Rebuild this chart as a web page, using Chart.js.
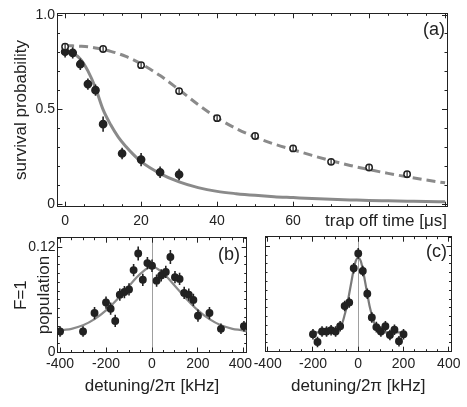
<!DOCTYPE html>
<html>
<head>
<meta charset="utf-8">
<script src="https://cdn.jsdelivr.net/npm/chart.js@4.4.1/dist/chart.umd.min.js"></script>
<style>
  html, body { margin: 0; padding: 0; background: #fff; }
  #fig { position: relative; width: 467px; height: 407px; overflow: hidden;
         font-family: "Liberation Sans", Arial, sans-serif; color: #222; }
  #fig canvas { position: absolute; }
  .tag { position: absolute; font-size: 18px; line-height: 18px; }
</style>
</head>
<body>
<div id="fig">
  <canvas id="panelA" width="467" height="235" style="left:0;top:0"></canvas>
  <canvas id="panelB" width="262" height="177" style="left:0;top:230px"></canvas>
  <canvas id="panelC" width="219" height="177" style="left:248px;top:230px"></canvas>
  <div class="tag" style="right:22px;top:20px">(a)</div>
  <div class="tag" style="right:227px;top:245px">(b)</div>
  <div class="tag" style="right:20px;top:242px">(c)</div>
</div>
<script>
// (a) survival probability vs trap off time
const fullT = [0, 2, 4, 6, 8, 10, 15, 20, 25, 30];
const fullP = [0.806, 0.800, 0.740, 0.635, 0.603, 0.423, 0.268, 0.236, 0.169, 0.157];
const fullErr = [0.03, 0.03, 0.03, 0.03, 0.03, 0.04, 0.03, 0.035, 0.03, 0.03];
const openT = [0, 10, 20, 30, 40, 50, 60, 70, 80, 90];
const openP = [0.832, 0.820, 0.735, 0.598, 0.455, 0.361, 0.295, 0.224, 0.194, 0.159];
const openErr = [0.015, 0.015, 0.015, 0.015, 0.015, 0.015, 0.015, 0.015, 0.015, 0.015];
const fitT = [0, 2, 4, 6, 8, 10, 12, 14, 16, 18, 20, 25, 30, 35, 40, 45, 50, 55, 60, 65, 70, 75, 80, 85, 90, 95, 100];
const fitSolid = [0.805, 0.797, 0.768, 0.705, 0.615, 0.500, 0.420, 0.355, 0.305, 0.262, 0.225, 0.162, 0.118, 0.088,
                  0.068, 0.056, 0.047, 0.040, 0.035, 0.030, 0.026, 0.023, 0.020, 0.018, 0.016, 0.014, 0.013];
const fitDash = [0.838, 0.837, 0.835, 0.832, 0.826, 0.818, 0.808, 0.796, 0.781, 0.763, 0.742, 0.680, 0.605, 0.527,
                 0.457, 0.400, 0.355, 0.318, 0.288, 0.258, 0.230, 0.205, 0.183, 0.163, 0.145, 0.128, 0.113];
const timeTicks = [0, 20, 40, 60, 80, 100];
const probTicks = [0, 0.5, 1.0];

// (b) F=1 population vs detuning, broad
const bDet = [-400, -300, -250, -200, -180, -160, -140, -120, -100, -80, -60, -40, -20, 0,
              20, 40, 60, 80, 100, 120, 140, 160, 180, 200, 250, 300, 400];
const bPop = [0.024, 0.024, 0.045, 0.057, 0.050, 0.036, 0.066, 0.069, 0.072, 0.094, 0.113, 0.083, 0.102, 0.099,
              0.082, 0.088, 0.092, 0.109, 0.086, 0.084, 0.068, 0.066, 0.060, 0.042, 0.045, 0.027, 0.030];
const bErr = [0.006, 0.006, 0.007, 0.007, 0.007, 0.007, 0.007, 0.007, 0.007, 0.007, 0.008, 0.007, 0.007, 0.007,
              0.007, 0.007, 0.007, 0.008, 0.007, 0.007, 0.007, 0.007, 0.007, 0.007, 0.007, 0.006, 0.006];
const bFitDet = [-412, -400, -350, -300, -250, -200, -150, -100, -50, 0, 50, 100, 150, 200, 250, 300, 350, 400, 412];
const bFitPop = [0.024, 0.025, 0.027, 0.031, 0.038, 0.048, 0.061, 0.076, 0.090, 0.098,
                 0.090, 0.076, 0.061, 0.048, 0.038, 0.031, 0.027, 0.025, 0.024];

// (c) F=1 population vs detuning, narrow
const cDet = [-200, -180, -160, -140, -120, -100, -80, -60, -40, -20, 0, 20, 40, 60, 80, 100, 120, 140, 160, 180, 200];
const cPop = [0.020, 0.011, 0.023, 0.023, 0.0245, 0.023, 0.029, 0.052, 0.056, 0.095, 0.112,
              0.092, 0.066, 0.039, 0.028, 0.023, 0.029, 0.019, 0.025, 0.012, 0.020];
const cErr = [0.006, 0.006, 0.006, 0.006, 0.006, 0.006, 0.006, 0.006, 0.006, 0.006, 0.006,
              0.006, 0.006, 0.006, 0.006, 0.006, 0.006, 0.006, 0.006, 0.006, 0.006];
const cFitDet = [-200, -150, -110, -100, -90, -80, -70, -60, -50, -40, -30, -20, -10, 0,
                 10, 20, 30, 40, 50, 60, 70, 80, 90, 100, 110, 150, 200];
const cFitPop = [0.022, 0.022, 0.022, 0.0235, 0.025, 0.028, 0.033, 0.042, 0.052, 0.066, 0.080, 0.094, 0.104, 0.107,
                 0.104, 0.094, 0.080, 0.066, 0.052, 0.042, 0.033, 0.028, 0.025, 0.0235, 0.022, 0.022, 0.022];
const detTicks = [-400, -200, 0, 200, 400];
const popTicks = [0, 0.12];

const FONT = '"Liberation Sans", Arial, sans-serif';
const INK = '#222';
const GREY = '#8a8a8a';
Chart.defaults.font.family = FONT;
Chart.defaults.color = INK;

function pts(xs, ys) {
    return xs.map((x, i) => ({ x, y: ys[i] }));
}

// vertical error bars as one broken line
function bars(xs, ys, es, width, order) {
    const data = [];
    xs.forEach((x, i) => data.push({ x, y: ys[i] - es[i] }, { x, y: ys[i] + es[i] }, { x, y: null }));
    return { data, showLine: true, spanGaps: false, pointRadius: 0, borderColor: INK, borderWidth: width, order };
}

function dots(xs, ys, r, fill, order) {
    return { data: pts(xs, ys), pointRadius: r, pointBackgroundColor: fill, pointBorderColor: INK,
             pointBorderWidth: 1.5, order };
}

function curve(xs, ys, width, color, dash, order) {
    return { data: pts(xs, ys), showLine: true, pointRadius: 0, borderColor: color, borderWidth: width,
             borderDash: dash, cubicInterpolationMode: 'monotone', order };
}

// one side of the frame: ticks point inward, size fixed so the plot box lands where we want it.
// `step` is either a minor step size or an array of major tick values
function edge(pos, min, max, step, len, size, weight) {
    const horiz = pos === 'top' || pos === 'bottom';
    const list = Array.isArray(step) ? step : null;
    return {
        type: 'linear', position: pos, axis: horiz ? 'x' : 'y', min, max, weight,
        grid: { drawOnChartArea: false, tickLength: -len, tickColor: INK, color: INK },
        border: { color: INK, width: 1 },
        ticks: { display: false, stepSize: list ? undefined : step, autoSkip: false, includeBounds: false },
        afterBuildTicks(s) {
            if (list) s.ticks = list.map(value => ({ value }));
        },
        afterFit(s) {
            if (horiz) s.height = size; else s.width = size;
            s.paddingLeft = s.paddingRight = s.paddingTop = s.paddingBottom = 0;
        }
    };
}

function frame(x, y, xSize, ySize) {
    return {
        x: edge('bottom', x.min, x.max, x.major, 5, xSize, 1),
        xMinor: edge('bottom', x.min, x.max, x.minor, 2.5, 0, 0),
        xTop: edge('top', x.min, x.max, x.major, 5, 0, 1),
        xTopMinor: edge('top', x.min, x.max, x.minor, 2.5, 0, 0),
        y: edge('left', y.min, y.max, y.major, 5, ySize, 1),
        yMinor: edge('left', y.min, y.max, y.minor, 2.5, 0, 0),
        yRight: edge('right', y.min, y.max, y.major, 5, 0, 1),
        yRightMinor: edge('right', y.min, y.max, y.minor, 2.5, 0, 0)
    };
}

function base(padding, scales) {
    return {
        responsive: false,
        animation: false,
        events: [],
        layout: { padding },
        plugins: { legend: { display: false }, tooltip: { enabled: false } },
        scales
    };
}

const tickFont = { size: 14 };
const titleFont = { size: 17 };
const zeroLine = c => (c.tick && c.tick.value === 0 ? '#a0a0a0' : 'rgba(0,0,0,0)');

// panel (a)
const scalesA = frame({ min: -2, max: 100.5, minor: 5, major: timeTicks },
                      { min: -0.013, max: 1.009, minor: 0.1, major: probTicks }, 28.3, 57.5);
Object.assign(scalesA.x.ticks, { display: true, padding: 10.9, font: tickFont,
                                 callback: v => (v <= 60 ? String(v) : '') });
scalesA.x.title = { display: true, text: 'trap off time [μs]', align: 'end', font: titleFont,
                    padding: { top: 0, bottom: 3.8 } };
Object.assign(scalesA.y.ticks, { display: true, padding: 7.5, font: tickFont,
                                 callback: v => (v === 0 ? '0' : v.toFixed(1)) });
scalesA.y.title = { display: true, text: 'survival probability', font: titleFont, padding: { top: 11.3, bottom: 0 } };

new Chart(document.getElementById('panelA'), {
    type: 'scatter',
    data: {
        datasets: [
            bars(openT, openP, openErr, 1.2, 1),
            dots(openT, openP, 3.2, '#fff', 2),
            dots(fullT, fullP, 3.6, INK, 3),
            bars(fullT, fullP, fullErr, 1.6, 4),
            curve(fitT, fitDash, 3, GREY, [9, 5], 5),
            curve(fitT, fitSolid, 3, GREY, [], 5)
        ]
    },
    options: base({ left: 0, top: 13.3, right: 20, bottom: 0 }, scalesA)
});

// panel (b)
const scalesB = frame({ min: -412, max: 412, minor: 50, major: detTicks },
                      { min: 0, max: 0.131, minor: 0.01, major: popTicks }, 54.5, 57.3);
// the last label sits a little left of its tick so it clears the (c) labels
Object.assign(scalesB.x.ticks, { display: true, padding: 8.1, font: tickFont,
                                 callback: v => (v === 400 ? '400\u2002' : String(v)) });
Object.assign(scalesB.x.grid, { drawOnChartArea: true, color: zeroLine });
scalesB.x.title = { display: true, text: 'detuning/2π [kHz]', font: titleFont, padding: { top: 0, bottom: 10.8 } };
Object.assign(scalesB.y.ticks, { display: true, padding: 6.8, font: tickFont, callback: v => String(v) });
scalesB.y.title = { display: true, text: ['F=1', 'population'], font: { size: 17, lineHeight: 1.35 },
                    padding: { top: 9.5, bottom: 0 } };

new Chart(document.getElementById('panelB'), {
    type: 'scatter',
    data: {
        datasets: [
            dots(bDet, bPop, 3.2, INK, 1),
            bars(bDet, bPop, bErr, 1.6, 2),
            curve(bFitDet, bFitPop, 2.2, GREY, [], 3)
        ]
    },
    options: base({ left: 0, top: 7.7, right: 15.3, bottom: 0 }, scalesB)
});

// panel (c)
const scalesC = frame({ min: -412, max: 412, minor: 50, major: detTicks },
                      { min: 0, max: 0.131, minor: 0.01, major: popTicks }, 55.3, 17);
Object.assign(scalesC.x.ticks, { display: true, padding: 8.9, font: tickFont, callback: v => String(v) });
Object.assign(scalesC.x.grid, { drawOnChartArea: true, color: zeroLine });
scalesC.x.title = { display: true, text: 'detuning/2π [kHz]', font: titleFont, padding: { top: 0, bottom: 10.8 } };

new Chart(document.getElementById('panelC'), {
    type: 'scatter',
    data: {
        datasets: [
            dots(cDet, cPop, 3.2, INK, 1),
            bars(cDet, cPop, cErr, 1.6, 2),
            curve(cFitDet, cFitPop, 2.2, '#7a7a7a', [], 3)
        ]
    },
    options: base({ left: 0, top: 6.7, right: 15.5, bottom: 0 }, scalesC)
});
</script>
</body>
</html>
